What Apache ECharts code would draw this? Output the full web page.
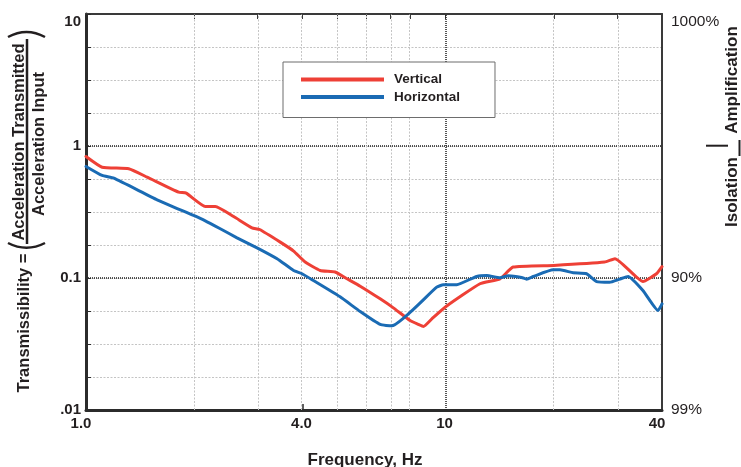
<!DOCTYPE html>
<html>
<head>
<meta charset="utf-8">
<script src="https://cdn.jsdelivr.net/npm/echarts@6/dist/echarts.min.js"></script>
<style>
html,body{margin:0;padding:0;background:#fff;}
#chart{width:741px;height:467px;}
</style>
</head>
<body>
<div id="chart"></div>
<script>
// ---- data ----
const freqVertical = [1.0, 1.109, 1.315, 1.479, 1.81, 1.90, 2.147, 2.29, 2.574, 2.895, 3.04, 3.47, 3.78, 4.07, 4.48, 4.93, 5.32, 5.79, 6.58, 7.16, 7.97, 8.4, 8.68, 9.16, 10.03, 12.47, 14.17, 15.42, 20.0, 27.7, 29.6, 35.4, 38.6, 40.0];
const vertical = [0.833, 0.691, 0.672, 0.581, 0.447, 0.439, 0.348, 0.348, 0.292, 0.240, 0.233, 0.187, 0.160, 0.132, 0.114, 0.111, 0.0986, 0.0867, 0.0695, 0.0594, 0.0476, 0.0445, 0.0429, 0.049, 0.0608, 0.0904, 0.0986, 0.121, 0.1245, 0.132, 0.140, 0.094, 0.1077, 0.122];

const freqHorizontal = [1.0, 1.109, 1.195, 1.577, 1.992, 2.147, 2.363, 2.63, 2.99, 3.40, 3.78, 3.99, 4.29, 5.09, 5.79, 6.58, 7.09, 9.45, 9.86, 10.74, 12.21, 13.02, 14.17, 14.94, 16.28, 16.81, 17.54, 19.93, 20.8, 22.65, 24.67, 26.3, 28.6, 30.5, 32.2, 35.4, 39.0, 40.0];
const horizontal = [0.700, 0.598, 0.570, 0.391, 0.2976, 0.271, 0.236, 0.2016, 0.1694, 0.140, 0.114, 0.1077, 0.0957, 0.072, 0.0557, 0.0445, 0.0434, 0.0852, 0.0888, 0.089, 0.1027, 0.1045, 0.1004, 0.104, 0.101, 0.098, 0.1027, 0.1153, 0.1153, 0.1095, 0.1077, 0.094, 0.0928, 0.098, 0.1027, 0.0804, 0.0567, 0.0637];

const xRange = [1, 40];
const yRange = [0.01, 10];
const xLabelValues = [1, 4, 10, 40];
const xLabelTexts = ['1.0', '4.0', '10', '40'];
const xGridLight = [2, 3, 4, 5, 6, 7, 8, 20, 30];
const xGridDark = [10];
const xTopTicks = [2, 3, 4, 5, 6, 7, 8, 10, 20, 30];
const xBottomTicks = [4];
const yLabelValues = [10, 1, 0.1, 0.01];
const yLabelTexts = ['10', '1', '0.1', '.01'];
const pctValues = [10, 0.1, 0.01];
const pctTexts = ['1000%', '90%', '99%'];
const seriesNames = ['Vertical', 'Horizontal'];
const yTitleLeft = 'Transmissibility =';
const yTitleNum = 'Acceleration Transmitted';
const yTitleDen = 'Acceleration Input';
const xTitle = 'Frequency, Hz';
const rightTop = 'Amplification';
const rightBottom = 'Isolation';

// ---- helpers ----
const L = Math.log10;
function lookupIndex(v, vals) {
  for (let i = 0; i < vals.length; i++) {
    if (Math.abs(L(vals[i]) - v) < 1e-6) return i;
  }
  return -1;
}
function lookup(v, vals, texts) {
  const i = lookupIndex(v, vals);
  return i < 0 ? '' : texts[i];
}
const INK = '#231f20';
const FONT = '"Liberation Sans", Arial, Helvetica, sans-serif';
const RED = '#ee4036';
const BLUE = '#1a6bb4';

const chart = echarts.init(document.getElementById('chart'), null, {renderer: 'canvas'});

const labelFont = {fontFamily: FONT, fontWeight: 'bold', fontSize: 15, color: INK};

const option = {
  animation: false,
  backgroundColor: '#fff',
  grid: {left: 86, top: 14, right: 79, bottom: 57, containLabel: false},
  legend: {
    data: seriesNames,
    orient: 'vertical',
    left: 283, top: 62,
    padding: [10, 35, 13, 18],
    itemWidth: 83, itemHeight: 4, itemGap: 2.5,
    icon: 'rect',
    backgroundColor: '#fff',
    borderColor: '#6d6d6d', borderWidth: 1,
    z: 30,
    textStyle: {fontFamily: FONT, fontWeight: 'bold', fontSize: 13.5, color: INK, lineHeight: 15, padding: [0, 0, 0, 5]}
  },
  xAxis: [
    {
      type: 'value', position: 'bottom',
      min: L(xRange[0]), max: L(xRange[1]),
      axisLine: {show: true, onZero: false, lineStyle: {color: '#2b2b2b', width: 3}},
      axisTick: {show: true, inside: true, length: 6, customValues: xBottomTicks.map(L), lineStyle: {color: '#2b2b2b', width: 1.5}},
      axisLabel: {
        customValues: xLabelValues.map(L),
        formatter: v => {
          const i = lookupIndex(v, xLabelValues);
          if (i < 0) return '';
          const edge = (i === 0 || i === xLabelValues.length - 1);
          return edge ? '{e|' + xLabelTexts[i] + '}' : '{m|' + xLabelTexts[i] + '}';
        },
        margin: 6,
        rich: {
          e: Object.assign({padding: [0, 10, 0, 0]}, labelFont),
          m: Object.assign({padding: [0, 2, 0, 0]}, labelFont)
        },
        ...labelFont
      },
      splitLine: {show: false}
    },
    {
      type: 'value', position: 'top',
      min: L(xRange[0]), max: L(xRange[1]),
      axisLine: {show: true, onZero: false, lineStyle: {color: '#3a3a3a', width: 2}},
      axisTick: {show: true, inside: true, length: 5, customValues: xTopTicks.map(L), lineStyle: {color: '#3a3a3a', width: 1}},
      axisLabel: {show: false},
      splitLine: {show: false}
    }
  ],
  yAxis: [
    {
      type: 'value', position: 'left',
      min: L(yRange[0]), max: L(yRange[1]), interval: 0.25,
      axisLine: {show: true, onZero: false, lineStyle: {color: '#2b2b2b', width: 3}},
      axisTick: {show: true, inside: true, length: 5, lineStyle: {color: '#2b2b2b', width: 1}},
      axisLabel: {
        formatter: v => lookup(v, yLabelValues, yLabelTexts),
        margin: 5, ...labelFont,
        verticalAlignMaxLabel: 'top'
      },
      splitLine: {show: true, lineStyle: {color: '#c4c4c4', width: 1, type: [2, 1.5]}}
    },
    {
      type: 'value', position: 'right',
      min: L(yRange[0]), max: L(yRange[1]), interval: 1,
      axisLine: {show: true, onZero: false, lineStyle: {color: '#3a3a3a', width: 2}},
      axisTick: {show: false},
      axisLabel: {
        formatter: v => lookup(v, pctValues, pctTexts),
        margin: 9, fontFamily: FONT, fontWeight: 'normal', fontSize: 15.5, color: INK,
        verticalAlignMaxLabel: 'top'
      },
      splitLine: {show: true, lineStyle: {color: '#1e1e1e', width: 1.5, type: [1, 1]}}
    }
  ],
  series: [
    {
      name: 'grid', type: 'line', data: [], z: 1, silent: true,
      markLine: {
        silent: true, symbol: 'none', animation: false,
        label: {show: false},
        data: xGridLight.map(f => ({xAxis: L(f), lineStyle: {color: '#c4c4c4', width: 1, type: [2, 1.5]}}))
          .concat(xGridDark.map(f => ({xAxis: L(f), lineStyle: {color: '#1e1e1e', width: 1.5, type: [1, 1]}})))
      }
    },
    {
      name: seriesNames[0], type: 'line', z: 20,
      data: freqVertical.map((f, i) => [L(f), L(vertical[i])]),
      showSymbol: false, symbol: 'none', smooth: 0.15,
      lineStyle: {color: RED, width: 3, join: 'round', cap: 'round'},
      itemStyle: {color: RED}
    },
    {
      name: seriesNames[1], type: 'line', z: 20,
      data: freqHorizontal.map((f, i) => [L(f), L(horizontal[i])]),
      showSymbol: false, symbol: 'none', smooth: 0.15,
      lineStyle: {color: BLUE, width: 3, join: 'round', cap: 'round'},
      itemStyle: {color: BLUE}
    }
  ],
  graphic: [
    {type: 'text', x: 24, y: 323, rotation: Math.PI / 2,
     style: {text: yTitleLeft, x: 0, y: 0, align: 'center', verticalAlign: 'middle', font: 'bold 16.5px ' + FONT, fill: INK}},
    {type: 'text', x: 19, y: 142, rotation: Math.PI / 2,
     style: {text: yTitleNum, x: 0, y: 0, align: 'center', verticalAlign: 'middle', font: 'bold 16.5px ' + FONT, fill: INK}},
    {type: 'text', x: 39.5, y: 144, rotation: Math.PI / 2,
     style: {text: yTitleDen, x: 0, y: 0, align: 'center', verticalAlign: 'middle', font: 'bold 16.5px ' + FONT, fill: INK}},
    {type: 'line', shape: {x1: 27, y1: 39, x2: 27, y2: 244}, style: {stroke: INK, lineWidth: 2.5}},
    {type: 'bezierCurve', shape: {x1: 8, y1: 37, x2: 45, y2: 37, cpx1: 26.5, cpy1: 27}, style: {stroke: INK, lineWidth: 2.5, fill: null}},
    {type: 'bezierCurve', shape: {x1: 8, y1: 243, x2: 45, y2: 243, cpx1: 26.5, cpy1: 252.5}, style: {stroke: INK, lineWidth: 2.5, fill: null}},
    {type: 'text', x: 365, y: 460,
     style: {text: xTitle, x: 0, y: 0, align: 'center', verticalAlign: 'middle', font: 'bold 17px ' + FONT, fill: INK}},
    {type: 'text', x: 732, y: 80, rotation: Math.PI / 2,
     style: {text: rightTop, x: 0, y: 0, align: 'center', verticalAlign: 'middle', font: 'bold 17px ' + FONT, fill: INK}},
    {type: 'text', x: 732, y: 192, rotation: Math.PI / 2,
     style: {text: rightBottom, x: 0, y: 0, align: 'center', verticalAlign: 'middle', font: 'bold 17px ' + FONT, fill: INK}},
    {type: 'line', shape: {x1: 706, y1: 145.7, x2: 728, y2: 145.7}, style: {stroke: INK, lineWidth: 2}},
    {type: 'line', shape: {x1: 739.5, y1: 140, x2: 739.5, y2: 156}, style: {stroke: INK, lineWidth: 2}}
  ]
};
chart.setOption(option);
</script>
</body>
</html>
